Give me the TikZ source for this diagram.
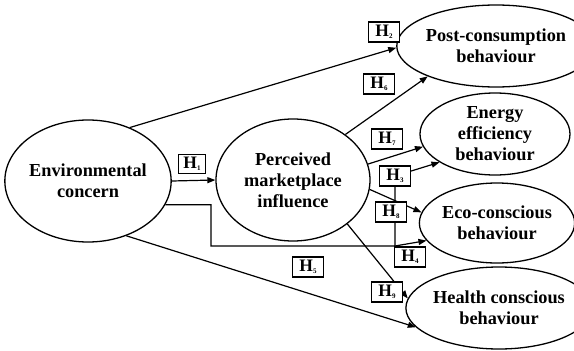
\documentclass[tikz,border=0pt]{standalone}
\usepackage{fontspec}
\setmainfont{Liberation Serif}
\usetikzlibrary{shapes.geometric,arrows.meta,backgrounds}
\newcommand\hlab[1]{H\raisebox{-2pt}{\fontsize{7}{7}\selectfont #1}}
\begin{document}
\begin{tikzpicture}[x=1pt,y=-1pt,
  construct/.style={draw,ellipse,line width=1.3pt,inner sep=0pt,align=center,font=\fontsize{18.3}{21}\selectfont\bfseries},
  hbox/.style={draw,fill=white,line width=1.4pt,minimum width=31pt,minimum height=20pt,inner sep=0pt,font=\fontsize{17.5}{18}\selectfont\bfseries},
  link/.style={line width=1.2pt,-{Triangle[length=8pt,width=6pt]}},
  plain/.style={line width=1.2pt}]
\useasboundingbox (0,0) rectangle (574,351);
\node[construct,minimum width=156pt,minimum height=122pt] (ec) at (88,181) {Environmental\\concern};
\node[construct,minimum width=154pt,minimum height=122pt] (pmi) at (293,180) {Perceived\\marketplace\\influence};
\node[construct,minimum width=148pt,minimum height=82pt] (post) at (496,46) {Post-consumption\\behaviour};
\node[construct,minimum width=150pt,minimum height=82pt] (energy) at (495,134) {Energy\\efficiency\\behaviour};
\node[construct,minimum width=150pt,minimum height=80pt] (eco) at (497,223) {Eco-conscious\\behaviour};
\node[construct,minimum width=152pt,minimum height=82pt] (health) at (499,308) {Health conscious\\behaviour};
\node[hbox,minimum width=27pt,minimum height=19pt] (h1) at (192,164) {\hlab{1}};
\node[hbox] (h2) at (384,32) {\hlab{2}};
\node[hbox] (h6) at (379,84) {\hlab{6}};
\node[hbox] (h7) at (387,139) {\hlab{7}};
\node[hbox] (h3) at (395,176) {\hlab{3}};
\node[hbox] (h8) at (391,212) {\hlab{8}};
\node[hbox] (h4) at (410,257) {\hlab{4}};
\node[hbox] (h5) at (308,267) {\hlab{5}};
\node[hbox] (h9) at (387,292) {\hlab{9}};
\coordinate (k1) at (211,246);
\coordinate (k2) at (395,246);
\begin{pgfonlayer}{background}
\draw[link] (ec.52) -- (post.181);
\draw[link] (ec.0) -- (pmi.180);
\draw[link] (pmi.41) -- (post.204);
\draw[link] (pmi.12) -- (energy.190);
\draw[link] (ec.-17) -| (k1) -- (k2) -- (h3.center) -- (energy.207);
\draw[link] (k2) -- (eco.194);
\draw[link] (pmi.-7) -- (eco.172);
\draw[link] (pmi.-39) -- (health.174);
\draw[link] (ec.-55) -- (health.193);
\end{pgfonlayer}
\end{tikzpicture}
\end{document}
